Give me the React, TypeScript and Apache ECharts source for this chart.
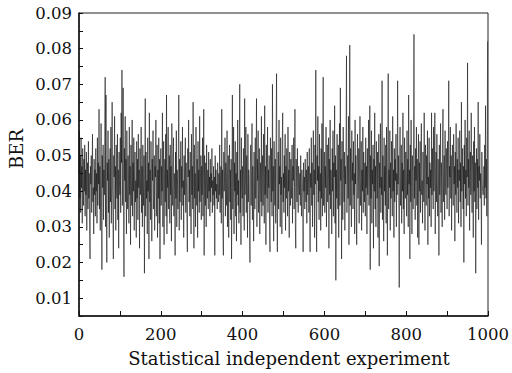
import React, { useEffect, useRef } from 'react';
import * as echarts from 'echarts';

const berSeg0 = [45, 57, 38, 50, 34, 55, 41, 47, 31, 52, 44, 36, 49, 40, 53, 33, 46, 39, 51, 29, 43, 48, 35, 54, 38, 45, 30, 21, 47, 42, 50, 34, 44, 56, 37, 41, 28, 49, 39, 46, 33, 52, 40, 45, 31, 55, 36, 48, 42, 63, 35, 47, 29, 44, 59, 38, 18, 50, 41, 53, 32, 46, 39, 55, 72, 30, 67, 36, 20, 48, 43, 57, 34, 49, 27, 45, 52, 37, 58, 31, 42, 65, 40, 33, 21, 50, 44, 61, 35, 47, 29, 53, 41, 38, 56, 32, 46, 24, 51, 43];
const berSeg1 = [39, 55, 34, 62, 48, 74, 36, 45, 69, 30, 16, 52, 43, 61, 37, 49, 28, 57, 41, 35, 50, 44, 31, 58, 39, 47, 25, 53, 42, 36, 60, 33, 48, 40, 55, 29, 45, 51, 37, 43, 27, 54, 38, 49, 32, 56, 41, 46, 24, 52, 39, 44, 58, 34, 47, 30, 53, 42, 36, 50, 17, 45, 66, 33, 51, 38, 43, 28, 55, 40, 48, 21, 62, 37, 46, 32, 54, 41, 26, 49, 43, 57, 35, 39, 50, 29, 47, 44, 60, 33, 41, 53, 27, 46, 38, 55, 31, 49, 21, 44];
const berSeg2 = [52, 36, 47, 40, 62, 30, 45, 54, 25, 43, 49, 37, 56, 33, 67, 28, 46, 41, 58, 35, 44, 50, 31, 53, 39, 47, 26, 59, 42, 36, 48, 55, 33, 45, 40, 22, 51, 38, 57, 30, 46, 42, 35, 52, 67, 29, 49, 37, 44, 54, 32, 47, 41, 58, 36, 43, 27, 50, 39, 45, 55, 34, 48, 40, 31, 23, 52, 44, 60, 37, 46, 33, 51, 42, 28, 56, 39, 47, 35, 65, 41, 24, 53, 38, 45, 30, 58, 43, 36, 49, 27, 54, 40, 46, 34, 61, 37, 44, 50, 32];
const berSeg3 = [47, 39, 55, 33, 44, 63, 22, 50, 41, 36, 48, 30, 53, 42, 38, 46, 35, 51, 40, 44, 33, 49, 37, 45, 41, 52, 34, 43, 39, 47, 36, 44, 22, 50, 40, 46, 38, 42, 35, 48, 41, 37, 45, 39, 53, 34, 43, 47, 31, 63, 38, 46, 29, 22, 51, 40, 44, 55, 33, 48, 42, 36, 57, 30, 45, 50, 27, 43, 53, 37, 46, 32, 49, 21, 41, 67, 35, 44, 58, 28, 48, 40, 54, 33, 45, 26, 51, 39, 60, 36, 43, 31, 49, 70, 34, 46, 25, 55, 41, 38];
const berSeg4 = [47, 33, 52, 44, 29, 66, 39, 45, 58, 34, 50, 41, 27, 56, 37, 46, 43, 30, 20, 48, 53, 36, 44, 59, 32, 47, 40, 26, 51, 42, 35, 55, 38, 46, 66, 30, 49, 43, 57, 34, 45, 52, 28, 41, 48, 37, 61, 33, 44, 50, 36, 56, 42, 31, 64, 39, 47, 25, 53, 43, 38, 58, 34, 46, 41, 50, 29, 23, 55, 44, 37, 52, 33, 70, 40, 47, 26, 54, 43, 36, 49, 31, 57, 73, 38, 23, 45, 51, 35, 60, 42, 47, 30, 55, 39, 44, 28, 53, 62, 37];
const berSeg5 = [45, 34, 50, 41, 56, 29, 47, 38, 52, 43, 33, 58, 40, 46, 27, 51, 44, 36, 49, 42, 38, 53, 31, 47, 43, 55, 35, 41, 63, 30, 24, 49, 44, 37, 52, 40, 34, 47, 42, 39, 45, 36, 50, 41, 33, 46, 43, 38, 23, 48, 40, 44, 35, 49, 42, 37, 46, 31, 51, 39, 43, 47, 34, 52, 38, 23, 45, 41, 55, 36, 48, 30, 44, 57, 39, 46, 27, 53, 42, 74, 35, 23, 50, 43, 61, 37, 47, 32, 56, 40, 45, 29, 52, 38, 59, 33, 48, 72, 36, 44];
const berSeg6 = [51, 34, 47, 41, 58, 30, 45, 53, 37, 43, 55, 24, 49, 39, 60, 35, 46, 42, 28, 52, 40, 57, 33, 48, 44, 64, 31, 50, 15, 46, 38, 56, 42, 35, 53, 27, 47, 59, 36, 69, 43, 49, 21, 54, 40, 32, 58, 45, 37, 51, 29, 47, 42, 55, 78, 34, 44, 50, 38, 61, 25, 46, 81, 36, 52, 41, 30, 57, 43, 48, 35, 54, 39, 45, 28, 60, 42, 50, 33, 25, 47, 56, 38, 44, 52, 31, 49, 61, 36, 43, 54, 29, 46, 40, 58, 34, 51, 42, 37, 48];
const berSeg7 = [33, 55, 41, 47, 28, 52, 39, 45, 60, 36, 43, 64, 18, 50, 38, 57, 31, 46, 42, 53, 24, 49, 40, 62, 35, 47, 30, 54, 43, 38, 51, 27, 45, 56, 19, 48, 41, 59, 34, 44, 39, 71, 32, 50, 45, 26, 55, 40, 47, 36, 53, 31, 58, 43, 22, 49, 73, 35, 46, 41, 57, 29, 48, 38, 54, 44, 33, 61, 40, 46, 27, 52, 37, 49, 43, 56, 30, 45, 39, 71, 42, 50, 34, 13, 47, 58, 36, 44, 53, 31, 48, 40, 62, 35, 46, 28, 55, 41, 38, 51];
const berSeg8 = [44, 33, 57, 39, 49, 30, 67, 42, 46, 21, 53, 37, 60, 41, 28, 50, 45, 35, 55, 84, 38, 47, 32, 52, 43, 58, 36, 49, 27, 44, 56, 25, 48, 40, 54, 34, 46, 59, 39, 43, 31, 51, 45, 37, 62, 41, 29, 53, 47, 36, 50, 42, 57, 25, 44, 38, 55, 33, 48, 41, 46, 30, 62, 39, 52, 43, 35, 58, 40, 47, 62, 28, 45, 51, 37, 56, 42, 33, 49, 44, 22, 53, 39, 46, 59, 34, 48, 41, 30, 55, 63, 37, 45, 50, 32, 57, 43, 39, 52, 46];
const berSeg9 = [35, 54, 41, 48, 71, 33, 47, 44, 58, 38, 50, 29, 45, 53, 40, 36, 56, 42, 47, 26, 51, 39, 59, 44, 34, 49, 41, 55, 31, 46, 43, 57, 37, 48, 30, 65, 40, 45, 52, 35, 47, 20, 53, 42, 60, 38, 46, 33, 55, 44, 76, 36, 49, 41, 57, 29, 45, 51, 39, 62, 43, 34, 50, 46, 27, 54, 40, 58, 37, 48, 17, 44, 52, 35, 49, 41, 65, 32, 47, 43, 56, 38, 45, 40, 25, 51, 42, 40, 39, 40, 47, 36, 53, 41, 64, 38, 49, 33, 44, 82];

const xTickLabels = ['0', '200', '400', '600', '800', '1000'];
const yTickLabels = ['0.01', '0.02', '0.03', '0.04', '0.05', '0.06', '0.07', '0.08', '0.09'];
const xTitle = 'Statistical independent experiment';
const yTitle = 'BER';

const FONT = 'DejaVu Serif';

export default function App() {
  const ref = useRef<HTMLDivElement>(null);
  useEffect(() => {
    const chart = echarts.init(ref.current as HTMLDivElement, null, { renderer: 'svg' });
    const ber = [berSeg0, berSeg1, berSeg2, berSeg3, berSeg4, berSeg5, berSeg6, berSeg7, berSeg8, berSeg9].flat();
    const data = ber.map((v, i) => [i, v / 1000]);
    chart.setOption({
      animation: false,
      backgroundColor: '#fff',
      grid: {
        left: 79, top: 13, width: 409, height: 303,
        show: true, borderColor: '#222', borderWidth: 1, backgroundColor: 'transparent',
      },
      xAxis: {
        type: 'value', min: 0, max: 1000, interval: 100,
        axisLine: { show: true, lineStyle: { color: '#111', width: 1.5 } },
        axisTick: { show: true, inside: true, length: 5, lineStyle: { color: '#111', width: 1 } },
        splitLine: { show: false },
        axisLabel: {
          margin: 10, color: '#111', fontFamily: FONT, fontSize: 16.5,
          formatter: (v: number) => (xTickLabels.includes(String(v)) ? String(v) : ''),
        },
      },
      yAxis: {
        type: 'value', min: 0.005, max: 0.09, interval: 0.005,
        axisLine: { show: true, lineStyle: { color: '#111', width: 1.5 } },
        axisTick: { show: true, inside: true, length: 4, lineStyle: { color: '#111', width: 1 } },
        splitLine: { show: false },
        axisLabel: {
          margin: 7, color: '#111', fontFamily: FONT, fontSize: 16.5,
          formatter: (v: number) => {
            const s = (Math.round(v * 1000) / 1000).toFixed(2);
            return Math.round(v * 1000) % 10 === 0 && yTickLabels.includes(s) ? s : '';
          },
        },
      },
      graphic: [
        {
          type: 'text', x: 289, y: 358,
          style: { text: xTitle, font: `18px "${FONT}"`, fill: '#111', textAlign: 'center', textVerticalAlign: 'middle' },
        },
        {
          type: 'text', x: 16, y: 149, rotation: Math.PI / 2,
          style: { text: yTitle, font: `18px "${FONT}"`, fill: '#111', textAlign: 'center', textVerticalAlign: 'middle' },
        },
      ],
      series: [
        {
          type: 'line', data, symbol: 'none', showSymbol: false,
          lineStyle: { color: '#111', width: 0.6 },
          silent: true,
        },
      ],
    });
    return () => chart.dispose();
  }, []);
  return (
    <div
      ref={ref}
      style={{ position: 'fixed', left: 0, top: 0, width: 512, height: 373, background: '#fff' }}
    />
  );
}
